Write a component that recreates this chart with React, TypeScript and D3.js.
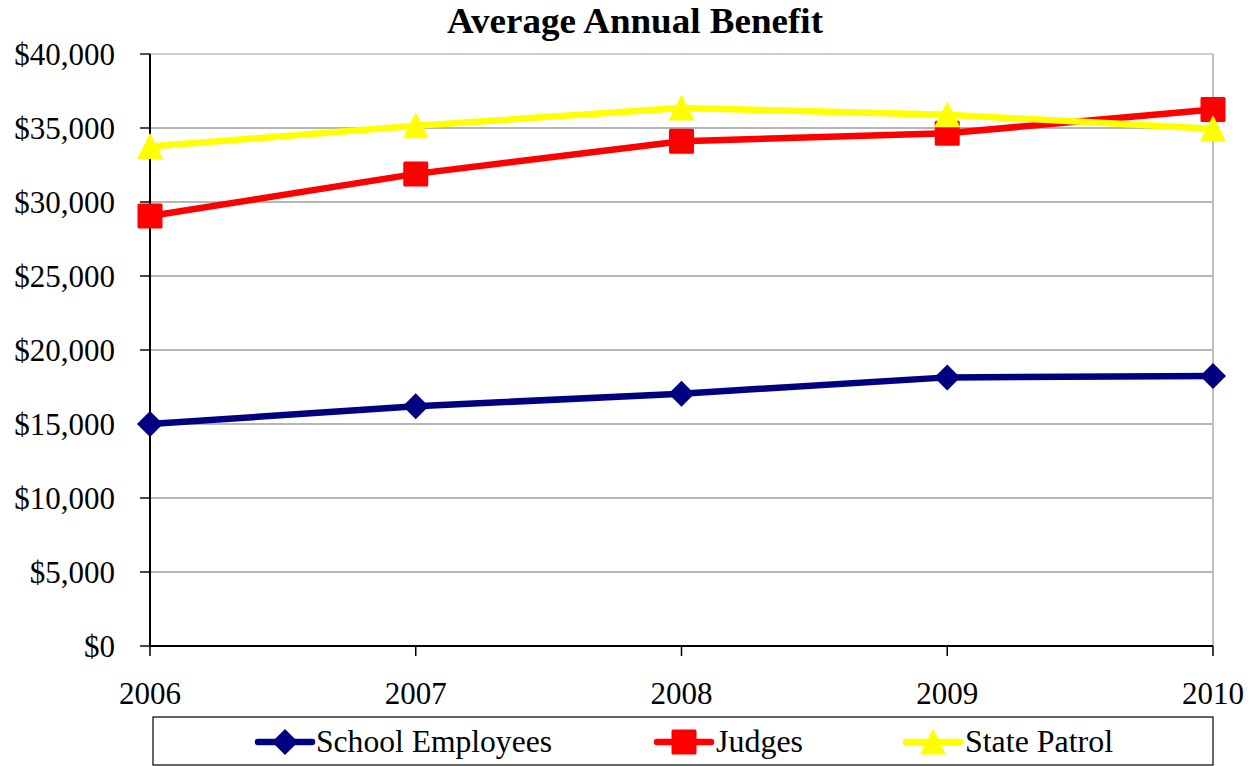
import React from "react";
import * as d3 from "d3";

const years = ["2006", "2007", "2008", "2009", "2010"];
const schoolEmployees = [15000, 16200, 17050, 18150, 18250];
const judges = [29050, 31900, 34100, 34650, 36250];
const statePatrol = [33750, 35150, 36350, 35900, 34950];
const yTicks = [0, 5000, 10000, 15000, 20000, 25000, 30000, 35000, 40000];

const series = [
  { name: "School Employees", values: schoolEmployees, color: "#000080", marker: "diamond", textW: 236 },
  { name: "Judges", values: judges, color: "#FF0000", marker: "square", textW: 87 },
  { name: "State Patrol", values: statePatrol, color: "#FFFF00", marker: "triangle", textW: 148 },
];

const W = 1258, H = 766;
const left = 150, right = 1213, top = 54, bottom = 646;

function Marker({ type, x, y, color }: { type: string; x: number; y: number; color: string }) {
  if (type === "diamond") {
    const r = 13;
    return <path d={`M${x},${y - r}L${x + r},${y}L${x},${y + r}L${x - r},${y}Z`} fill={color} />;
  }
  if (type === "square") {
    const s = 12.5;
    return <rect x={x - s} y={y - s} width={2 * s} height={2 * s} rx={1.5} fill={color} />;
  }
  const h = 25, w = 26;
  return <path d={`M${x},${y - h / 2 - 1}L${x + w / 2},${y + h / 2}L${x - w / 2},${y + h / 2}Z`} fill={color} />;
}

export default function App() {
  const x = d3.scalePoint<string>().domain(years).range([left, right]);
  const y = d3.scaleLinear().domain([0, 40000]).range([bottom, top]);
  const line = d3
    .line<number>()
    .x((_, i) => x(years[i]) as number)
    .y((d) => y(d));
  const fmt = (v: number) => "$" + d3.format(",")(v);
  const font = "'Liberation Serif', 'Times New Roman', serif";

  const legendItems = [
    { lx: 258, tx: 316 },
    { lx: 657, tx: 716 },
    { lx: 906, tx: 965 },
  ];

  return (
    <svg width={W} height={H} style={{ position: "absolute", left: 0, top: 0, background: "#fff" }} fontFamily={font}>
      <rect x={0} y={0} width={W} height={H} fill="#fff" />
      <text x={635} y={33} textAnchor="middle" fontSize={36} fontWeight="bold" textLength={376} lengthAdjust="spacingAndGlyphs">
        Average Annual Benefit
      </text>
      {/* gridlines */}
      {yTicks.map((t) => (
        <line key={t} x1={left - 10} x2={right} y1={y(t)} y2={y(t)} stroke={t === 40000 ? "#a0a0a0" : "#6e6e6e"} strokeWidth={1.2} />
      ))}
      {yTicks.map((t) => (
        <line key={"tk" + t} x1={left - 10} x2={left} y1={y(t)} y2={y(t)} stroke="#000" strokeWidth={1.2} />
      ))}
      <line x1={right} x2={right} y1={top} y2={bottom} stroke="#c0c0c0" strokeWidth={2} />
      <line x1={left} x2={left} y1={top} y2={bottom} stroke="#000" strokeWidth={2} />
      <line x1={left} x2={right} y1={bottom} y2={bottom} stroke="#000" strokeWidth={2} />
      {years.map((yr) => (
        <line key={"xt" + yr} x1={x(yr)} x2={x(yr)} y1={bottom} y2={bottom + 10} stroke="#000" strokeWidth={1.5} />
      ))}
      {yTicks.map((t) => (
        <text key={"yl" + t} x={115} y={y(t) + 11} textAnchor="end" fontSize={31}>
          {fmt(t)}
        </text>
      ))}
      {years.map((yr) => (
        <text key={"xl" + yr} x={x(yr)} y={704} textAnchor="middle" fontSize={31}>
          {yr}
        </text>
      ))}
      {series.map((s) => (
        <g key={s.name}>
          <path d={line(s.values) || ""} fill="none" stroke={s.color} strokeWidth={6.5} strokeLinejoin="round" />
          {s.values.map((v, i) => (
            <Marker key={i} type={s.marker} x={x(years[i]) as number} y={y(v)} color={s.color} />
          ))}
        </g>
      ))}
      {/* legend */}
      <rect x={153} y={717} width={1060} height={48} fill="#fff" stroke="#000" strokeWidth={1.2} />
      {series.map((s, i) => {
        const it = legendItems[i];
        const cy = 742;
        return (
          <g key={"lg" + s.name}>
            <line x1={it.lx} x2={it.lx + 54} y1={cy} y2={cy} stroke={s.color} strokeWidth={6.5} strokeLinecap="round" />
            <Marker type={s.marker} x={it.lx + 27} y={cy} color={s.color} />
            <text x={it.tx} y={cy + 10} fontSize={32} textLength={s.textW} lengthAdjust="spacingAndGlyphs">
              {s.name}
            </text>
          </g>
        );
      })}
    </svg>
  );
}
